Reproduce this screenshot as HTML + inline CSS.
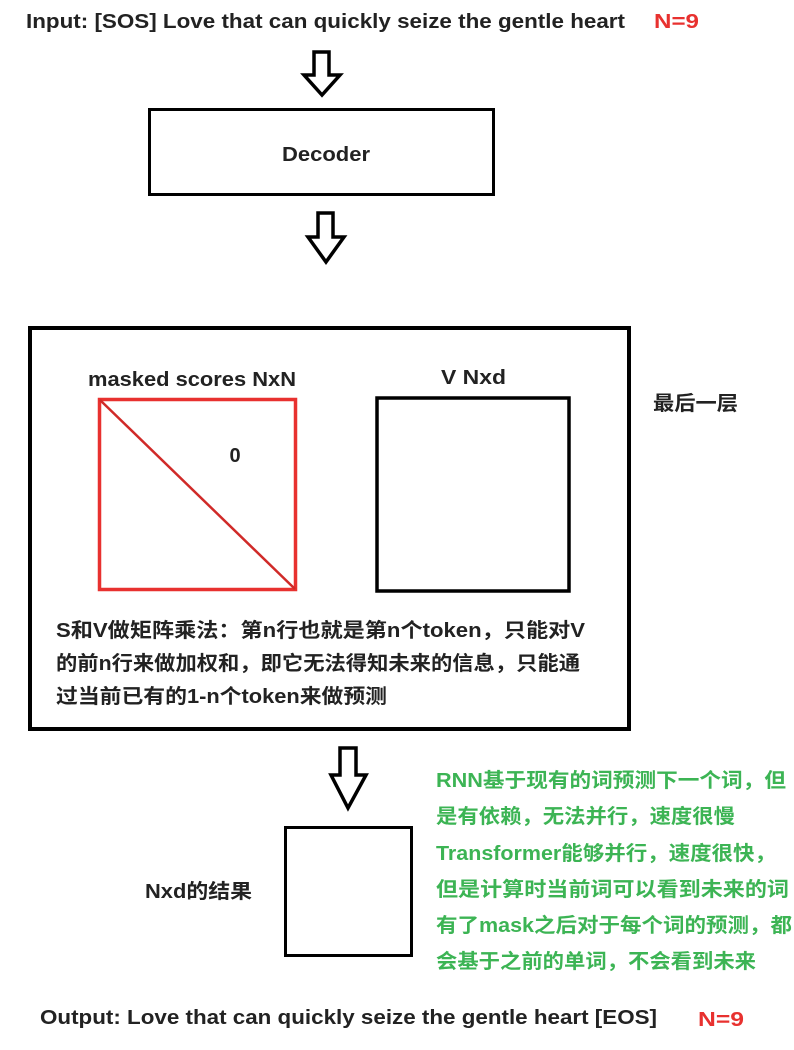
<!DOCTYPE html>
<html><head><meta charset="utf-8"><style>
body{margin:0;background:#fff;width:794px;height:1045px;overflow:hidden}
svg text{font-family:"Liberation Sans","Noto Sans CJK SC",sans-serif;font-weight:bold}
</style></head><body>
<svg width="794" height="1045" xmlns="http://www.w3.org/2000/svg">
<g lengthAdjust="spacingAndGlyphs">
<text x="26" y="28" font-size="20" fill="#222" textLength="599" lengthAdjust="spacingAndGlyphs">Input: [SOS] Love that can quickly seize the gentle heart</text>
<text x="654" y="28" font-size="20" fill="#e8312f" textLength="45" lengthAdjust="spacingAndGlyphs">N=9</text>
<path d="M314 52 H329 V75 H340 L322 95 L304 75 H314 Z" fill="none" stroke="#000" stroke-width="3.5"/>
<rect x="149.5" y="109.5" width="344" height="85" fill="none" stroke="#000" stroke-width="3"/>
<text x="282" y="161" font-size="20" fill="#222" textLength="88" lengthAdjust="spacingAndGlyphs">Decoder</text>
<path d="M318 213 H333 V237 H344 L326 262 L308 237 H318 Z" fill="none" stroke="#000" stroke-width="3.5"/>
<rect x="30" y="328" width="599" height="401" fill="none" stroke="#000" stroke-width="4"/>
<text x="88" y="386" font-size="20" fill="#222" textLength="208" lengthAdjust="spacingAndGlyphs">masked scores NxN</text>
<text x="441" y="384" font-size="20" fill="#222" textLength="65" lengthAdjust="spacingAndGlyphs">V Nxd</text>
<rect x="99.5" y="399.5" width="196" height="190" fill="none" stroke="#e8312f" stroke-width="3.5"/>
<line x1="100" y1="400" x2="295" y2="589" stroke="#d02a28" stroke-width="2.5"/>
<text x="235" y="462" font-size="20" fill="#222" text-anchor="middle">0</text>
<rect x="377" y="398" width="192" height="193" fill="none" stroke="#000" stroke-width="3.5"/>
<text x="653" y="410" font-size="20" fill="#222" textLength="85" lengthAdjust="spacingAndGlyphs">最后一层</text>
<text x="56" y="637" font-size="20" fill="#222" textLength="529" lengthAdjust="spacingAndGlyphs">S和V做矩阵乘法：第n行也就是第n个token，只能对V</text>
<text x="56" y="670" font-size="20" fill="#222" textLength="524" lengthAdjust="spacingAndGlyphs">的前n行来做加权和，即它无法得知未来的信息，只能通</text>
<text x="56" y="703" font-size="20" fill="#222" textLength="331" lengthAdjust="spacingAndGlyphs">过当前已有的1-n个token来做预测</text>
<path d="M340 748 H356 V775 H366 L348 808 L331 775 H340 Z" fill="none" stroke="#000" stroke-width="3.5"/>
<rect x="285.5" y="827.5" width="126" height="128" fill="none" stroke="#000" stroke-width="3"/>
<text x="145" y="898" font-size="20" fill="#222" textLength="107" lengthAdjust="spacingAndGlyphs">Nxd的结果</text>
<g font-size="20" fill="#3cb454">
<text x="436" y="787" textLength="350" lengthAdjust="spacingAndGlyphs">RNN基于现有的词预测下一个词，但</text>
<text x="436" y="823" textLength="299" lengthAdjust="spacingAndGlyphs">是有依赖，无法并行，速度很慢</text>
<text x="436" y="860" textLength="340" lengthAdjust="spacingAndGlyphs">Transformer能够并行，速度很快，</text>
<text x="436" y="896" textLength="353" lengthAdjust="spacingAndGlyphs">但是计算时当前词可以看到未来的词</text>
<text x="436" y="932" textLength="356" lengthAdjust="spacingAndGlyphs">有了mask之后对于每个词的预测，都</text>
<text x="436" y="968" textLength="320" lengthAdjust="spacingAndGlyphs">会基于之前的单词，不会看到未来</text>
</g>
<text x="40" y="1024" font-size="20" fill="#222" textLength="617" lengthAdjust="spacingAndGlyphs">Output: Love that can quickly seize the gentle heart [EOS]</text>
<text x="698" y="1026" font-size="20" fill="#e8312f" textLength="46" lengthAdjust="spacingAndGlyphs">N=9</text>
</g>
</svg>
</body></html>
